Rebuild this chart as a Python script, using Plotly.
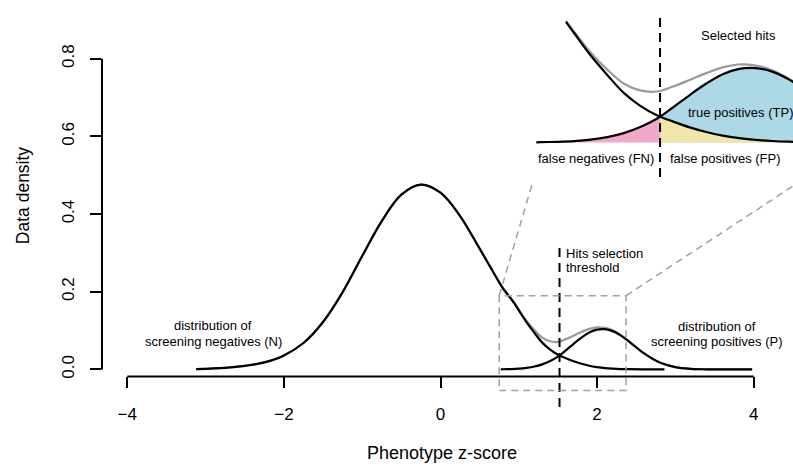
import numpy as np
import plotly.graph_objects as go

W, H = 793, 468

# ---------------- data ----------------
neg_x = [-3.12, -2.75, -2.5, -2.25, -2.0, -1.75, -1.5, -1.25, -1.0, -0.75, -0.5, -0.25,
         0.0, 0.25, 0.5, 0.75, 0.8, 0.9, 0.95, 1.0, 1.1, 1.2, 1.3, 1.4, 1.5, 1.6, 1.7,
         1.8, 1.9, 2.0, 2.1, 2.2, 2.3, 2.4, 2.6, 2.86]
neg_y = [0.001, 0.004, 0.009, 0.018, 0.036, 0.068, 0.122, 0.199, 0.292, 0.382, 0.450, 0.476,
         0.455, 0.395, 0.311, 0.224, 0.208, 0.182, 0.168, 0.152, 0.121, 0.094, 0.069, 0.051,
         0.038, 0.029, 0.021, 0.0145, 0.0095, 0.006, 0.0035, 0.002, 0.001, 0.0005, 0.0002, 0.0]

pos_x = [0.77, 0.8, 0.9, 1.0, 1.1, 1.2, 1.3, 1.4, 1.5, 1.6, 1.7, 1.8, 1.9, 2.0, 2.1,
         2.2, 2.3, 2.4, 2.6, 2.8, 3.0, 3.2, 3.4, 3.6, 3.98]
pos_y = [0.0, 0.0004, 0.0009, 0.0019, 0.0039, 0.0074, 0.0130, 0.0214, 0.0329, 0.049, 0.066,
         0.082, 0.095, 0.1025, 0.1035, 0.0986, 0.0878, 0.0730, 0.0412, 0.0177, 0.0058,
         0.0014, 0.0003, 0.0, 0.0]

threshold = 1.52
x_ticks = [-4, -2, 0, 2, 4]
y_ticks = [0.0, 0.2, 0.4, 0.6, 0.8]
zoom_box_x = [0.75, 2.37]
zoom_box_y = [-0.054, 0.19]

# ---------------- geometry ----------------
MAIN_XDOM = [102 / W, 1.0]
MAIN_YDOM = [1 - 378 / H, 1.0]
MAIN_XR = [(102 - 440.5) / 78.3, (793 - 440.5) / 78.3]
MAIN_YR = [(371 - 378) / 390, 371 / 390]

INS_XDOM = [533 / W, 1.0]
INS_YDOM = [1 - 182 / H, 1 - 6 / H]
INS_XR = [zoom_box_x[0], zoom_box_x[0] + (793 - 533) / 165]
INS_YR = zoom_box_y


def mx(v):
    return MAIN_XDOM[0] + (v - MAIN_XR[0]) / (MAIN_XR[1] - MAIN_XR[0]) * (MAIN_XDOM[1] - MAIN_XDOM[0])


def my(v):
    return MAIN_YDOM[0] + (v - MAIN_YR[0]) / (MAIN_YR[1] - MAIN_YR[0]) * (MAIN_YDOM[1] - MAIN_YDOM[0])


def ix(v):
    return INS_XDOM[0] + (v - INS_XR[0]) / (INS_XR[1] - INS_XR[0]) * (INS_XDOM[1] - INS_XDOM[0])


def iy(v):
    return INS_YDOM[0] + (v - INS_YR[0]) / (INS_YR[1] - INS_YR[0]) * (INS_YDOM[1] - INS_YDOM[0])


nx = np.array(neg_x); ny = np.array(neg_y)
px_ = np.array(pos_x); py_ = np.array(pos_y)
sum_x = np.unique(np.concatenate([nx, px_]))
sum_y = np.interp(sum_x, nx, ny, left=0, right=0) + np.interp(sum_x, px_, py_, left=0, right=0)

BLACK = "#000000"
GRAY = "#9a9a9a"
DGRAY = "#a0a0a0"
LW = 2.2
FONT = "Liberation Sans, Arial, Helvetica, sans-serif"

fig = go.Figure()

# ---- main plot ----
fig.add_trace(go.Scatter(x=sum_x, y=sum_y, mode="lines", line=dict(color=GRAY, width=LW, shape="spline"),
                         xaxis="x", yaxis="y", hoverinfo="skip"))
fig.add_trace(go.Scatter(x=nx, y=ny, mode="lines", line=dict(color=BLACK, width=LW, shape="spline"),
                         xaxis="x", yaxis="y", hoverinfo="skip"))
fig.add_trace(go.Scatter(x=px_, y=py_, mode="lines", line=dict(color=BLACK, width=LW, shape="spline"),
                         xaxis="x", yaxis="y", hoverinfo="skip"))

# ---- inset ----
thr_n = float(np.interp(threshold, nx, ny))
thr_p = float(np.interp(threshold, px_, py_))
blue_x = [threshold] + [v for v in pos_x if v > threshold]
blue_y = [thr_p] + [py_[i] for i, v in enumerate(pos_x) if v > threshold]
yel_x = [threshold] + [v for v in neg_x if v > threshold]
yel_y = [thr_n] + [ny[i] for i, v in enumerate(neg_x) if v > threshold]
pink_x = [v for v in pos_x if v < threshold] + [threshold]
pink_y = [py_[i] for i, v in enumerate(pos_x) if v < threshold] + [thr_p]

fig.add_trace(go.Scatter(x=blue_x, y=blue_y, mode="lines", fill="tozeroy", fillcolor="#ADD8E6",
                         line=dict(width=0, shape="spline"), xaxis="x2", yaxis="y2", hoverinfo="skip"))
fig.add_trace(go.Scatter(x=yel_x, y=yel_y, mode="lines", fill="tozeroy", fillcolor="#F1E6A9",
                         line=dict(width=0, shape="spline"), xaxis="x2", yaxis="y2", hoverinfo="skip"))
fig.add_trace(go.Scatter(x=pink_x, y=pink_y, mode="lines", fill="tozeroy", fillcolor="#F2A8CB",
                         line=dict(width=0, shape="spline"), xaxis="x2", yaxis="y2", hoverinfo="skip"))

m_in = sum_x >= 0.95
fig.add_trace(go.Scatter(x=sum_x[m_in], y=sum_y[m_in], mode="lines",
                         line=dict(color=GRAY, width=LW, shape="spline"),
                         xaxis="x2", yaxis="y2", hoverinfo="skip"))
n_in = nx >= 0.95
fig.add_trace(go.Scatter(x=nx[n_in], y=ny[n_in], mode="lines", line=dict(color=BLACK, width=LW, shape="spline"),
                         xaxis="x2", yaxis="y2", hoverinfo="skip"))
fig.add_trace(go.Scatter(x=px_, y=py_, mode="lines", line=dict(color=BLACK, width=LW, shape="spline"),
                         xaxis="x2", yaxis="y2", hoverinfo="skip"))

shapes = []
# axis lines
shapes.append(dict(type="line", xref="paper", yref="paper", x0=mx(x_ticks[0]), x1=mx(x_ticks[-1]),
                   y0=MAIN_YDOM[0], y1=MAIN_YDOM[0], line=dict(color=BLACK, width=2)))
shapes.append(dict(type="line", xref="paper", yref="paper", x0=MAIN_XDOM[0], x1=MAIN_XDOM[0],
                   y0=my(y_ticks[0]), y1=my(y_ticks[-1]), line=dict(color=BLACK, width=2)))
# threshold lines
shapes.append(dict(type="line", xref="paper", yref="paper", x0=mx(threshold), x1=mx(threshold),
                   y0=my(-0.097), y1=my(0.318), line=dict(color=BLACK, width=2, dash="9px,6px")))
shapes.append(dict(type="line", xref="paper", yref="paper", x0=ix(threshold), x1=ix(threshold),
                   y0=iy(-0.048), y1=iy(0.1745), line=dict(color=BLACK, width=2, dash="9px,6px")))
# zoom box and connectors
shapes.append(dict(type="rect", xref="paper", yref="paper", x0=mx(zoom_box_x[0]), x1=mx(zoom_box_x[1]),
                   y0=my(zoom_box_y[0]), y1=my(zoom_box_y[1]),
                   line=dict(color=DGRAY, width=1.5, dash="7px,5px")))
for bx in zoom_box_x:
    shapes.append(dict(type="line", xref="paper", yref="paper", x0=mx(bx), y0=my(zoom_box_y[1]),
                       x1=ix(bx), y1=iy(zoom_box_y[0]), line=dict(color=DGRAY, width=1.5, dash="7px,5px")))


def ann(text, x, y, size=13, xanchor="center", angle=0):
    return dict(text=text, x=x / W, y=1 - y / H, xref="paper", yref="paper", showarrow=False,
                xanchor=xanchor, yanchor="middle", textangle=angle,
                font=dict(family=FONT, size=size, color=BLACK))


annotations = [
    ann("Selected hits", 738, 36),
    ann("true positives (TP)", 740, 113),
    ann("false negatives (FN)", 596, 159),
    ann("false positives (FP)", 725, 159),
    ann("Hits selection", 564, 255, xanchor="left"),
    ann("threshold", 564, 269, xanchor="left"),
    ann("distribution of", 213, 327),
    ann("screening negatives (N)", 213, 343),
    ann("distribution of", 717, 328),
    ann("screening positives (P)", 717, 343),
    ann("Phenotype z-score", 442, 455, size=18),
    ann("Data density", 23, 196, size=17.5, angle=-90),
]

fig.update_layout(
    width=W, height=H, margin=dict(l=0, r=0, t=0, b=0),
    paper_bgcolor="white", plot_bgcolor="rgba(0,0,0,0)", showlegend=False,
    font=dict(family=FONT, color=BLACK),
    xaxis=dict(domain=MAIN_XDOM, range=MAIN_XR, showgrid=False, zeroline=False, showline=False,
               tickmode="array", tickvals=x_ticks, ticks="outside", ticklen=11, tickwidth=2,
               tickcolor=BLACK, tickfont=dict(size=17, family=FONT, color=BLACK),
               ticklabelstandoff=11, anchor="y", fixedrange=True),
    yaxis=dict(domain=MAIN_YDOM, range=MAIN_YR, showgrid=False, zeroline=False, showline=False,
               tickmode="array", tickvals=y_ticks, ticktext=["0.0", "0.2", "0.4", "0.6", "0.8"],
               ticks="outside", ticklen=11, tickwidth=2, tickcolor=BLACK, tickangle=-90,
               tickfont=dict(size=17, family=FONT, color=BLACK), ticklabelstandoff=9,
               anchor="x", fixedrange=True),
    xaxis2=dict(domain=INS_XDOM, range=INS_XR, visible=False, anchor="y2", fixedrange=True),
    yaxis2=dict(domain=INS_YDOM, range=INS_YR, visible=False, anchor="x2", fixedrange=True),
    shapes=shapes, annotations=annotations,
)

fig.write_html("out.html")
